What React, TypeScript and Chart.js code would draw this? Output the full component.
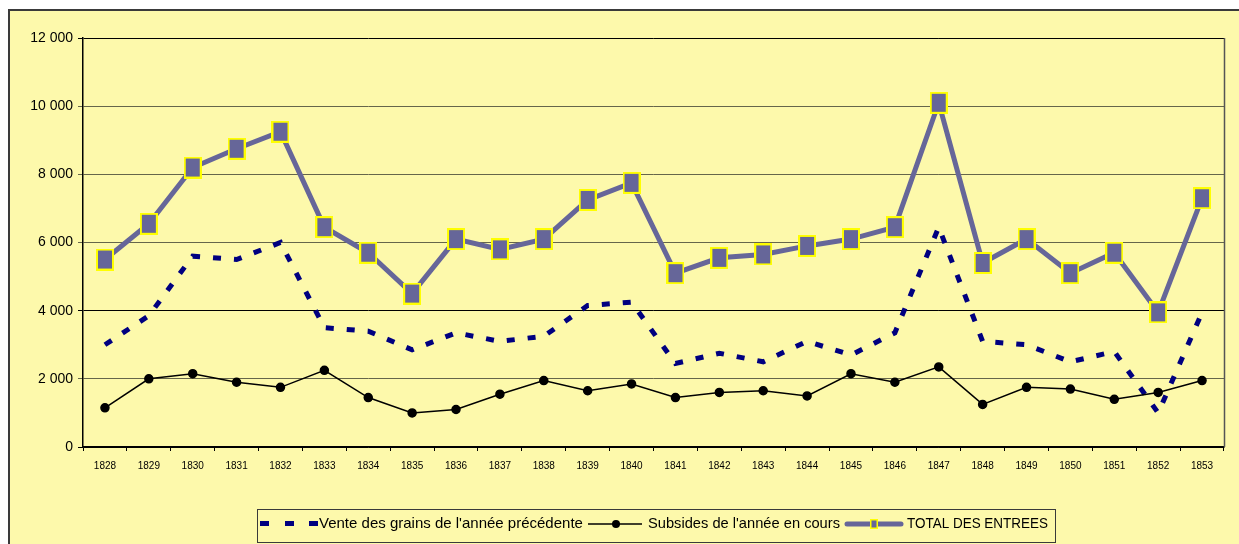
import React, { useEffect, useRef } from 'react';
import { Chart, registerables } from 'chart.js';
Chart.register(...registerables);

const years = ['1828','1829','1830','1831','1832','1833','1834','1835','1836','1837','1838','1839','1840','1841','1842','1843','1844','1845','1846','1847','1848','1849','1850','1851','1852','1853'];
const vente = [3000,3850,5600,5500,6000,3500,3400,2850,3350,3100,3250,4150,4250,2450,2750,2500,3100,2700,3350,6450,3100,3000,2500,2800,1000,3950];
const subsides = [1150,2000,2150,1900,1750,2250,1450,1000,1100,1550,1950,1650,1850,1450,1600,1650,1500,2150,1900,2350,1250,1750,1700,1400,1600,1950];
const total = [5500,6550,8200,8750,9250,6450,5700,4500,6100,5800,6100,7250,7750,5100,5550,5650,5900,6100,6450,10100,5400,6100,5100,5700,3950,7300];
const seriesLabels = ["Vente des grains de l'année précédente", "Subsides de l'année en cours", 'TOTAL DES ENTREES'];

const FONT = "'Liberation Sans', Arial, sans-serif";
const NAVY = '#000080';
const SLATE = '#666699';

function makeMarker(w: number, h: number) {
  const c = document.createElement('canvas');
  c.width = w; c.height = h;
  const g = c.getContext('2d')!;
  g.fillStyle = '#FFFF00';
  g.fillRect(0, 0, w, h);
  g.fillStyle = SLATE;
  g.fillRect(2, 2, w - 4, h - 4);
  return c;
}

const decorPlugin = {
  id: 'decor',
  beforeDraw(chart: any) {
    const ctx = chart.ctx;
    ctx.save();
    ctx.fillStyle = '#ffffff';
    ctx.fillRect(0, 0, chart.width, chart.height);
    ctx.fillStyle = '#FDF9AB';
    ctx.fillRect(9, 10, chart.width, chart.height);
    ctx.strokeStyle = '#3a3a3a';
    ctx.lineWidth = 2;
    ctx.beginPath();
    ctx.moveTo(9, chart.height + 5);
    ctx.lineTo(9, 10);
    ctx.lineTo(chart.width + 5, 10);
    ctx.stroke();
    ctx.restore();
  },
  afterDraw(chart: any) {
    const ctx = chart.ctx;
    const a = chart.chartArea;
    ctx.save();
    // right border of plot area
    ctx.strokeStyle = '#555555';
    ctx.lineWidth = 1.5;
    ctx.beginPath();
    ctx.moveTo(a.right + 0.5, a.top);
    ctx.lineTo(a.right + 0.5, a.bottom);
    ctx.stroke();

    // legend box
    ctx.strokeStyle = '#3a3a3a';
    ctx.lineWidth = 1;
    ctx.strokeRect(257.5, 509.5, 798, 33);
    const cy = 524;
    ctx.font = `15px ${FONT}`;
    ctx.fillStyle = '#000';
    ctx.textBaseline = 'middle';
    // item 1: dashed
    ctx.fillStyle = NAVY;
    [260, 285, 309].forEach((x) => ctx.fillRect(x, cy - 3, 9, 5));
    ctx.fillStyle = '#000';
    ctx.fillText(seriesLabels[0], 319, cy, 264);
    // item 2
    ctx.strokeStyle = '#000';
    ctx.lineWidth = 1.5;
    ctx.beginPath();
    ctx.moveTo(588, cy);
    ctx.lineTo(642, cy);
    ctx.stroke();
    ctx.beginPath();
    ctx.arc(616, cy, 4, 0, Math.PI * 2);
    ctx.fill();
    ctx.fillText(seriesLabels[1], 648, cy, 192);
    // item 3
    ctx.strokeStyle = SLATE;
    ctx.lineWidth = 5;
    ctx.lineCap = 'round';
    ctx.beginPath();
    ctx.moveTo(847, cy);
    ctx.lineTo(901, cy);
    ctx.stroke();
    ctx.fillStyle = '#FFFF00';
    ctx.fillRect(870, cy - 5, 8, 10);
    ctx.fillStyle = SLATE;
    ctx.fillRect(871.5, cy - 3.5, 5, 7);
    ctx.fillStyle = '#000';
    ctx.fillText(seriesLabels[2], 907, cy, 141);
    ctx.restore();
  },
};

export default function App() {
  const ref = useRef<HTMLCanvasElement>(null);
  useEffect(() => {
    const marker = makeMarker(18, 22);
    const chart = new Chart(ref.current!, {
      type: 'line',
      data: {
        labels: years,
        datasets: [
          {
            label: seriesLabels[0],
            data: vente,
            borderColor: NAVY,
            borderWidth: 5,
            borderDash: [8, 13],
            borderCapStyle: 'butt',
            pointRadius: 0,
            tension: 0,
            order: 3,
          },
          {
            label: seriesLabels[1],
            data: subsides,
            borderColor: '#000',
            backgroundColor: '#000',
            borderWidth: 1.5,
            pointRadius: 4,
            pointBackgroundColor: '#000',
            pointBorderColor: '#000',
            tension: 0,
            order: 2,
          },
          {
            label: seriesLabels[2],
            data: total,
            borderColor: SLATE,
            borderWidth: 5,
            pointStyle: marker as any,
            pointRadius: 10,
            tension: 0,
            order: 1,
          },
        ],
      },
      options: {
        responsive: false,
        animation: false,
        devicePixelRatio: 1,
        layout: { padding: { left: 0, top: 38, right: 6, bottom: 0 } },
        plugins: { legend: { display: false }, tooltip: { enabled: false } },
        scales: {
          x: {
            offset: true,
            grid: { offset: true, drawOnChartArea: false, tickLength: 4, color: '#000' },
            border: { color: '#000', width: 1.5 },
            ticks: { font: { family: FONT, size: 10 }, color: '#000', padding: 9, maxRotation: 0, autoSkip: false },
            afterFit(s: any) { s.height = 97; },
          },
          y: {
            min: 0,
            max: 12000,
            grid: {
              tickLength: 5,
              color: (c: any) => (c.tick && (c.tick.value === 12000 || c.tick.value === 4000 || c.tick.value === 0) ? '#000' : '#66664a'),
              lineWidth: 1,
            },
            border: { color: '#000', width: 1.5 },
            ticks: {
              stepSize: 2000,
              padding: 5,
              color: '#000',
              font: { family: FONT, size: 14 },
              callback: (v: any) => String(v).replace(/\B(?=(\d{3})+(?!\d))/g, ' '),
            },
            afterFit(s: any) { s.width = 83; },
          },
        },
      },
      plugins: [decorPlugin],
    });
    return () => chart.destroy();
  }, []);
  return (
    <div style={{ position: 'fixed', left: 0, top: 0, width: 1239, height: 544, background: '#fff' }}>
      <canvas ref={ref} width={1239} height={544} style={{ display: 'block' }} />
    </div>
  );
}
